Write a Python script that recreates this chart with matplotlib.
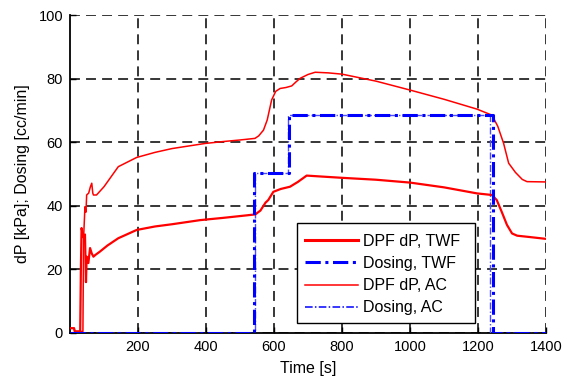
import matplotlib
matplotlib.use("Agg")
import matplotlib.pyplot as plt
from matplotlib.lines import Line2D
from matplotlib.patches import Rectangle

plt.rcParams['font.family'] = ['Liberation Sans', 'DejaVu Sans']

# DPF dP, TWF (thick red)
t_dp_twf = [0, 12, 14, 30, 32, 34, 40, 44, 47, 49, 54, 59, 64, 69, 74, 88, 110, 142, 196, 250, 300,
            383, 450, 520, 545, 560, 575, 583, 598, 620, 647, 670, 696, 740, 800, 900, 1000, 1100,
            1197, 1241, 1255, 1270, 1285, 1300, 1315, 1350, 1400]
dp_twf = [1.5, 1.5, 0.5, 0.5, 20, 33, 30, 31, 16, 24, 22, 26.7, 25, 24, 24.5, 25.6, 27.5, 29.8, 32.4,
          33.5, 34.2, 35.5, 36.2, 37, 37.3, 38.5, 41, 41.8, 44.4, 45.3, 46, 47.5, 49.5, 49.2, 48.8,
          48.2, 47.3, 45.8, 43.9, 43.4, 41.8, 38, 34, 31.3, 30.6, 30.2, 29.6]

# DPF dP, AC (thin red)
t_dp_ac = [0, 12, 14, 38, 40, 44, 47, 49, 55, 60, 64, 67, 69, 78, 100, 142, 196, 250, 300, 397, 450,
           500, 544, 555, 569, 580, 593, 605, 618, 635, 652, 665, 677, 700, 721, 760, 800, 900, 1000,
           1100, 1197, 1241, 1258, 1275, 1290, 1310, 1330, 1344, 1400]
dp_ac = [1.5, 1.5, 0.5, 0.5, 30, 39.7, 38, 43.4, 44, 46, 47.1, 44, 43.4, 43.4, 46, 52.3, 55.2, 56.8,
         58, 59.6, 60.2, 60.7, 61.2, 62, 63.8, 67, 73.3, 76, 76.9, 77.2, 77.7, 79, 80.1, 81.3, 82,
         81.8, 81.4, 79.2, 76.4, 73.5, 70.4, 68.5, 65, 59.7, 53.4, 50.5, 48.3, 47.6, 47.5]

# Dosing, TWF (thick blue dash-dot)
t_dose_twf = [0, 541, 541, 643, 643, 1243, 1243, 1400]
dose_twf = [0, 0, 50.2, 50.2, 68.6, 68.6, 0, 0]

# Dosing, AC (thin blue dash-dot)
t_dose_ac = [0, 543, 543, 641, 641, 1234, 1234, 1400]
dose_ac = [0, 0, 50.2, 50.2, 68.6, 68.6, 0, 0]

xticks = [200, 400, 600, 800, 1000, 1200, 1400]
yticks = [0, 20, 40, 60, 80, 100]
series_labels = ['DPF dP, TWF', 'Dosing, TWF', 'DPF dP, AC', 'Dosing, AC']

fig = plt.figure(figsize=(5.7, 3.81), dpi=100)
ax = fig.add_axes([0.1228, 0.126, 0.8352, 0.8346])

dd = (0, (5, 1.5, 1, 1.5))
ax.plot(t_dose_ac, dose_ac, color='#4d4dff', lw=1.0, linestyle=dd, zorder=3)
ax.plot(t_dp_ac, dp_ac, color='red', lw=1.1, zorder=4)
ax.plot(t_dp_twf, dp_twf, color='red', lw=1.6, zorder=4)
ax.plot(t_dose_twf, dose_twf, color='blue', lw=2.2, linestyle=dd, zorder=5)

ax.set_xlim(0, 1400)
ax.set_ylim(0, 100)
ax.set_xticks(xticks)
ax.set_yticks(yticks)
ax.grid(True, color='black', linestyle=(0, (6.5, 4)), lw=1.1)
ax.set_axisbelow(True)
for s in ['top', 'right']:
    ax.spines[s].set_visible(False)
for s in ['left', 'bottom']:
    ax.spines[s].set_linewidth(1.3)
ax.tick_params(direction='in', length=4, width=1, labelsize=10.5, pad=5)

ax.set_xlabel('Time [s]', fontsize=11.5, labelpad=5)
ax.set_ylabel('dP [kPa]; Dosing [cc/min]', fontsize=11.5, labelpad=6)

# legend frame
rect = Rectangle((0.4758, 0.0314), 0.3746, 0.3135, transform=ax.transAxes,
                 facecolor='white', edgecolor='black', lw=1.0, zorder=9)
ax.add_patch(rect)

handles = [Line2D([], [], color='red', lw=2.2),
           Line2D([], [], color='blue', lw=2.2, linestyle=dd),
           Line2D([], [], color='red', lw=1.1),
           Line2D([], [], color='blue', lw=1.1, linestyle=dd)]
leg = ax.legend(handles, series_labels, loc='upper left', bbox_to_anchor=(0.4937, 0.312),
                fontsize=11.5, handlelength=3.3, handletextpad=0.3,
                borderaxespad=0, borderpad=0, frameon=False, labelspacing=0.45)
leg.set_zorder(10)

fig.savefig('out.png', dpi=100)
